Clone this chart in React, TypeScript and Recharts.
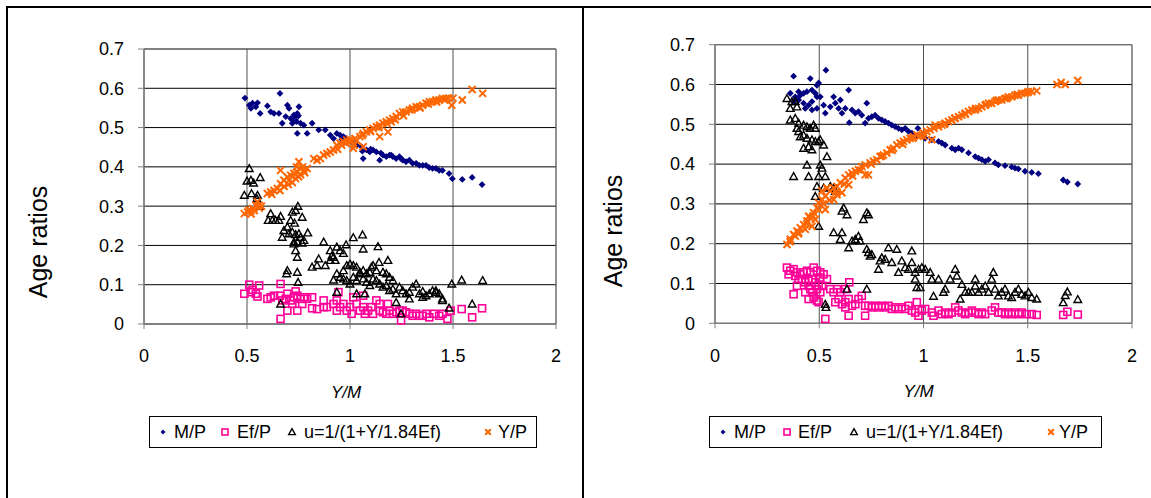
import React from 'react';
import {
  ScatterChart,
  Scatter,
  XAxis,
  YAxis,
  CartesianGrid,
  ReferenceArea,
  Legend,
  Label,
} from 'recharts';

// series names, shared by both panels
const seriesNames = ['M/P', 'Ef/P', 'u=1/(1+Y/1.84Ef)', 'Y/P'];
const xTicks = [0, 0.5, 1, 1.5, 2];
const yTicks = [0, 0.1, 0.2, 0.3, 0.4, 0.5, 0.6, 0.7];

// left panel, [Y/M, ratio]
const leftMP = [
  [0.49, 0.575], [0.66, 0.587], [0.511, 0.557], [0.527, 0.562], [0.551, 0.563], [0.543, 0.553],
  [0.519, 0.549], [0.564, 0.536], [0.599, 0.555], [0.615, 0.54], [0.631, 0.536], [0.655, 0.536],
  [0.696, 0.557], [0.704, 0.549], [0.688, 0.528], [0.712, 0.523], [0.728, 0.532], [0.744, 0.536],
  [0.752, 0.553], [0.736, 0.519], [0.72, 0.511], [0.671, 0.511], [0.76, 0.511], [0.776, 0.506],
  [0.744, 0.485], [0.792, 0.485], [0.816, 0.511], [0.848, 0.494], [0.88, 0.494], [0.904, 0.481],
  [0.92, 0.472], [0.936, 0.485], [0.952, 0.481], [0.968, 0.477], [0.984, 0.472], [1.008, 0.464],
  [1.032, 0.455], [1.056, 0.451], [1.064, 0.421], [1.08, 0.443], [1.096, 0.438], [1.112, 0.443],
  [1.128, 0.438], [1.144, 0.417], [1.16, 0.43], [1.176, 0.426], [1.192, 0.43], [1.208, 0.426],
  [1.224, 0.421], [1.24, 0.426], [1.256, 0.417], [1.272, 0.413], [1.288, 0.417], [1.304, 0.409],
  [1.321, 0.409], [1.337, 0.404], [1.353, 0.404], [1.369, 0.404], [1.385, 0.398], [1.401, 0.396],
  [1.417, 0.396], [1.433, 0.391], [1.449, 0.391], [1.481, 0.383], [1.497, 0.37], [1.545, 0.368],
  [1.593, 0.373], [1.641, 0.355], [0.73, 0.525], [0.74, 0.515], [0.75, 0.53], [0.72, 0.52],
  [1.15, 0.435], [1.2, 0.43], [1.25, 0.42], [1.1, 0.445], [1.02, 0.46], [0.96, 0.47], [1.06, 0.44],
];

const leftEf = [
  [0.487, 0.077], [0.511, 0.1], [0.527, 0.087], [0.543, 0.077], [0.559, 0.098], [0.551, 0.07],
  [0.519, 0.081], [0.599, 0.064], [0.615, 0.068], [0.631, 0.072], [0.66, 0.072], [0.663, 0.102],
  [0.696, 0.077], [0.712, 0.06], [0.728, 0.068], [0.736, 0.083], [0.744, 0.072], [0.76, 0.064],
  [0.776, 0.068], [0.792, 0.064], [0.671, 0.06], [0.688, 0.064], [0.696, 0.034], [0.72, 0.051],
  [0.744, 0.034], [0.663, 0.013], [0.816, 0.04], [0.84, 0.038], [0.872, 0.06], [0.872, 0.043],
  [0.888, 0.043], [0.92, 0.051], [0.936, 0.06], [0.944, 0.081], [0.936, 0.034], [0.952, 0.043],
  [0.968, 0.051], [0.984, 0.034], [1.0, 0.043], [1.016, 0.068], [1.032, 0.051], [1.048, 0.034],
  [1.064, 0.043], [1.064, 0.072], [1.072, 0.026], [1.088, 0.034], [1.104, 0.043], [1.112, 0.026],
  [1.128, 0.06], [1.144, 0.034], [1.16, 0.03], [1.176, 0.026], [1.184, 0.051], [1.192, 0.034],
  [1.208, 0.026], [1.224, 0.03], [1.24, 0.034], [1.248, 0.009], [1.256, 0.034], [1.272, 0.03],
  [1.288, 0.026], [1.304, 0.021], [1.321, 0.026], [1.337, 0.021], [1.353, 0.021], [1.369, 0.026],
  [1.385, 0.017], [1.409, 0.026], [1.433, 0.021], [1.449, 0.026], [1.473, 0.013], [1.489, 0.034],
  [1.542, 0.038], [1.593, 0.017], [1.641, 0.04], [1.144, 0.051], [1.008, 0.026], [0.816, 0.068],
  [0.768, 0.051],
];

const leftU = [
  [0.511, 0.396], [0.5, 0.364], [0.519, 0.366], [0.532, 0.359], [0.564, 0.373], [0.487, 0.328],
  [0.522, 0.332], [0.551, 0.328], [0.548, 0.319], [0.559, 0.3], [0.615, 0.281], [0.603, 0.264],
  [0.623, 0.264], [0.639, 0.264], [0.655, 0.264], [0.663, 0.274], [0.72, 0.285], [0.736, 0.289],
  [0.747, 0.3], [0.768, 0.272], [0.712, 0.264], [0.696, 0.247], [0.731, 0.257], [0.679, 0.238],
  [0.704, 0.23], [0.72, 0.234], [0.736, 0.228], [0.752, 0.23], [0.76, 0.221], [0.768, 0.206],
  [0.728, 0.209], [0.744, 0.209], [0.776, 0.213], [0.795, 0.232], [0.671, 0.221], [0.736, 0.187],
  [0.744, 0.17], [0.728, 0.204], [0.872, 0.209], [0.848, 0.166], [0.84, 0.149], [0.816, 0.145],
  [0.88, 0.149], [0.904, 0.187], [0.912, 0.174], [0.92, 0.17], [0.936, 0.196], [0.952, 0.187],
  [0.968, 0.18], [0.981, 0.202], [1.016, 0.22], [1.061, 0.227], [1.064, 0.191], [1.136, 0.197],
  [0.904, 0.162], [0.928, 0.162], [0.984, 0.149], [0.968, 0.136], [1.0, 0.153], [1.016, 0.149],
  [1.032, 0.145], [1.048, 0.132], [1.064, 0.136], [1.08, 0.128], [1.096, 0.132], [1.104, 0.145],
  [1.112, 0.149], [1.128, 0.136], [1.141, 0.157], [1.184, 0.162], [1.16, 0.132], [1.176, 0.128],
  [1.192, 0.119], [1.208, 0.111], [0.936, 0.128], [0.952, 0.119], [0.968, 0.115], [0.984, 0.111],
  [1.0, 0.102], [1.016, 0.119], [1.032, 0.111], [1.048, 0.128], [1.064, 0.115], [1.08, 0.106],
  [1.096, 0.098], [1.112, 0.115], [1.128, 0.111], [1.144, 0.102], [1.16, 0.094], [1.176, 0.098],
  [1.192, 0.085], [1.208, 0.089], [1.224, 0.077], [1.24, 0.094], [1.256, 0.085], [1.272, 0.077],
  [1.288, 0.081], [1.304, 0.094], [1.321, 0.102], [1.337, 0.077], [1.353, 0.068], [1.369, 0.072],
  [1.385, 0.077], [1.401, 0.085], [1.417, 0.081], [1.433, 0.077], [1.449, 0.064], [1.481, 0.041],
  [1.494, 0.102], [1.542, 0.112], [1.593, 0.051], [1.644, 0.111], [1.248, 0.026], [0.936, 0.081],
  [0.696, 0.136], [0.692, 0.128], [0.744, 0.132], [0.748, 0.106], [0.663, 0.051], [0.92, 0.112],
  [1.032, 0.077], [1.072, 0.077], [1.224, 0.055], [1.288, 0.064], [1.353, 0.083], [1.417, 0.085],
  [1.449, 0.06],
];

const leftYP = [
  [0.487, 0.281], [0.503, 0.285], [0.527, 0.294], [0.543, 0.302], [0.551, 0.311], [0.559, 0.302],
  [0.535, 0.289], [0.519, 0.288], [0.599, 0.332], [0.615, 0.336], [0.631, 0.34], [0.647, 0.345],
  [0.663, 0.357], [0.663, 0.391], [0.679, 0.366], [0.696, 0.374], [0.712, 0.379], [0.728, 0.383],
  [0.744, 0.387], [0.752, 0.413], [0.76, 0.396], [0.776, 0.391], [0.792, 0.396], [0.736, 0.37],
  [0.704, 0.366], [0.824, 0.421], [0.84, 0.417], [0.856, 0.421], [0.872, 0.43], [0.888, 0.434],
  [0.904, 0.438], [0.92, 0.443], [0.936, 0.455], [0.952, 0.46], [0.968, 0.464], [0.984, 0.468],
  [1.0, 0.464], [1.016, 0.447], [1.024, 0.472], [1.032, 0.468], [1.048, 0.477], [1.064, 0.485],
  [1.064, 0.451], [1.08, 0.489], [1.096, 0.494], [1.112, 0.498], [1.128, 0.502], [1.144, 0.506],
  [1.144, 0.477], [1.16, 0.511], [1.176, 0.515], [1.184, 0.489], [1.192, 0.519], [1.208, 0.523],
  [1.224, 0.528], [1.24, 0.536], [1.256, 0.54], [1.272, 0.54], [1.288, 0.545], [1.304, 0.549],
  [1.321, 0.553], [1.337, 0.553], [1.353, 0.557], [1.369, 0.562], [1.385, 0.566], [1.401, 0.566],
  [1.417, 0.57], [1.433, 0.57], [1.449, 0.574], [1.465, 0.574], [1.494, 0.557], [1.545, 0.57],
  [1.593, 0.597], [1.644, 0.587], [0.72, 0.36], [0.75, 0.375], [0.77, 0.4], [0.74, 0.4],
  [0.76, 0.38], [0.78, 0.385], [0.94, 0.445], [0.96, 0.455], [0.98, 0.46], [1.0, 0.47],
  [1.02, 0.455], [1.06, 0.48], [1.1, 0.49], [1.14, 0.5], [1.18, 0.51], [1.2, 0.515], [1.22, 0.52],
  [1.26, 0.53], [1.3, 0.545], [1.34, 0.55], [1.38, 0.56], [1.42, 0.565], [1.46, 0.57],
  [1.48, 0.575], [1.5, 0.575], [0.68, 0.35], [0.7, 0.355], [0.66, 0.34], [0.62, 0.33], [0.57, 0.3],
  [0.56, 0.295], [0.52, 0.28], [0.51, 0.29],
];

// right panel, [Y/M, ratio]
const rightMP = [
  [0.377, 0.621], [0.457, 0.615], [0.532, 0.636], [0.497, 0.604], [0.489, 0.598], [0.361, 0.578],
  [0.401, 0.582], [0.385, 0.569], [0.409, 0.573], [0.425, 0.578], [0.441, 0.582], [0.465, 0.586],
  [0.481, 0.578], [0.377, 0.557], [0.401, 0.561], [0.425, 0.553], [0.449, 0.548], [0.465, 0.557],
  [0.489, 0.569], [0.505, 0.569], [0.433, 0.54], [0.465, 0.536], [0.489, 0.54], [0.521, 0.548],
  [0.529, 0.528], [0.553, 0.544], [0.569, 0.569], [0.577, 0.553], [0.593, 0.54], [0.601, 0.561],
  [0.609, 0.528], [0.625, 0.54], [0.641, 0.586], [0.657, 0.536], [0.673, 0.528], [0.644, 0.504],
  [0.688, 0.532], [0.704, 0.523], [0.728, 0.553], [0.736, 0.515], [0.72, 0.503], [0.752, 0.519],
  [0.768, 0.523], [0.784, 0.515], [0.8, 0.511], [0.816, 0.507], [0.832, 0.503], [0.848, 0.498],
  [0.864, 0.494], [0.88, 0.49], [0.896, 0.486], [0.912, 0.49], [0.928, 0.482], [0.944, 0.478],
  [0.96, 0.469], [0.973, 0.49], [0.992, 0.473], [1.008, 0.465], [1.04, 0.461], [1.072, 0.457],
  [1.088, 0.453], [1.104, 0.448], [1.136, 0.44], [1.152, 0.436], [1.168, 0.44], [1.184, 0.436],
  [1.216, 0.428], [1.248, 0.419], [1.264, 0.415], [1.28, 0.411], [1.296, 0.407], [1.312, 0.411],
  [1.343, 0.403], [1.359, 0.398], [1.391, 0.396], [1.423, 0.393], [1.439, 0.39], [1.455, 0.388],
  [1.487, 0.382], [1.519, 0.379], [1.551, 0.376], [1.67, 0.36], [1.69, 0.355], [1.74, 0.35],
];

const rightEf = [
  [0.345, 0.14], [0.361, 0.132], [0.377, 0.136], [0.393, 0.128], [0.409, 0.123], [0.425, 0.128],
  [0.441, 0.132], [0.457, 0.128], [0.473, 0.14], [0.489, 0.132], [0.505, 0.128], [0.521, 0.123],
  [0.537, 0.111], [0.353, 0.123], [0.385, 0.119], [0.401, 0.111], [0.417, 0.111], [0.433, 0.103],
  [0.449, 0.107], [0.465, 0.111], [0.481, 0.103], [0.497, 0.094], [0.513, 0.094], [0.393, 0.094],
  [0.449, 0.094], [0.457, 0.086], [0.489, 0.086], [0.505, 0.078], [0.377, 0.073], [0.449, 0.061],
  [0.473, 0.065], [0.489, 0.057], [0.497, 0.053], [0.529, 0.011], [0.553, 0.086], [0.569, 0.078],
  [0.585, 0.086], [0.601, 0.078], [0.577, 0.053], [0.593, 0.061], [0.609, 0.048], [0.625, 0.053],
  [0.641, 0.061], [0.644, 0.103], [0.657, 0.044], [0.673, 0.048], [0.688, 0.061], [0.704, 0.069],
  [0.72, 0.044], [0.641, 0.019], [0.72, 0.019], [0.736, 0.044], [0.752, 0.04], [0.768, 0.044],
  [0.784, 0.04], [0.8, 0.044], [0.816, 0.04], [0.832, 0.044], [0.848, 0.036], [0.864, 0.04],
  [0.88, 0.036], [0.896, 0.04], [0.912, 0.036], [0.928, 0.044], [0.944, 0.032], [0.96, 0.027],
  [0.968, 0.053], [0.976, 0.019], [0.992, 0.032], [1.008, 0.036], [1.04, 0.027], [1.048, 0.019],
  [1.072, 0.032], [1.088, 0.023], [1.104, 0.027], [1.12, 0.023], [1.136, 0.027], [1.152, 0.04],
  [1.168, 0.032], [1.184, 0.027], [1.2, 0.023], [1.216, 0.027], [1.232, 0.032], [1.248, 0.027],
  [1.264, 0.023], [1.28, 0.027], [1.296, 0.023], [1.327, 0.032], [1.343, 0.04], [1.359, 0.027],
  [1.375, 0.027], [1.391, 0.023], [1.407, 0.027], [1.423, 0.023], [1.439, 0.027], [1.455, 0.023],
  [1.471, 0.027], [1.495, 0.023], [1.519, 0.023], [1.543, 0.021], [0.625, 0.04], [0.433, 0.078],
  [0.465, 0.078], [0.625, 0.086], [0.505, 0.115], [1.67, 0.021], [1.69, 0.029], [1.74, 0.022],
];

const rightU = [
  [0.345, 0.565], [0.369, 0.557], [0.385, 0.557], [0.361, 0.54], [0.393, 0.544], [0.361, 0.511],
  [0.385, 0.515], [0.401, 0.503], [0.393, 0.49], [0.401, 0.482], [0.425, 0.498], [0.441, 0.494],
  [0.457, 0.49], [0.473, 0.498], [0.481, 0.49], [0.409, 0.469], [0.425, 0.473], [0.441, 0.465],
  [0.465, 0.461], [0.481, 0.457], [0.497, 0.457], [0.425, 0.44], [0.449, 0.444], [0.465, 0.436],
  [0.505, 0.461], [0.521, 0.448], [0.377, 0.369], [0.449, 0.369], [0.497, 0.369], [0.529, 0.369],
  [0.441, 0.398], [0.537, 0.419], [0.505, 0.398], [0.513, 0.39], [0.489, 0.344], [0.481, 0.319],
  [0.521, 0.34], [0.553, 0.344], [0.569, 0.34], [0.577, 0.332], [0.497, 0.244], [0.617, 0.29],
  [0.609, 0.282], [0.633, 0.273], [0.712, 0.261], [0.728, 0.278], [0.736, 0.273], [0.569, 0.228],
  [0.609, 0.228], [0.601, 0.211], [0.641, 0.19], [0.657, 0.207], [0.673, 0.211], [0.688, 0.219],
  [0.696, 0.207], [0.728, 0.186], [0.736, 0.178], [0.744, 0.169], [0.752, 0.173], [0.784, 0.136],
  [0.792, 0.157], [0.8, 0.165], [0.816, 0.161], [0.832, 0.19], [0.848, 0.153], [0.872, 0.186],
  [0.88, 0.128], [0.896, 0.157], [0.912, 0.14], [0.928, 0.136], [0.944, 0.182], [0.944, 0.153],
  [0.96, 0.128], [0.976, 0.136], [0.992, 0.14], [1.008, 0.136], [1.032, 0.128], [0.96, 0.111],
  [0.984, 0.09], [0.968, 0.09], [1.04, 0.111], [1.048, 0.068], [1.072, 0.111], [1.096, 0.078],
  [1.104, 0.086], [1.128, 0.111], [1.152, 0.136], [1.16, 0.119], [1.176, 0.061], [1.184, 0.098],
  [1.2, 0.078], [1.216, 0.078], [1.232, 0.078], [1.248, 0.111], [1.248, 0.094], [1.264, 0.078],
  [1.28, 0.086], [1.296, 0.094], [1.312, 0.078], [1.327, 0.111], [1.335, 0.128], [1.343, 0.086],
  [1.359, 0.069], [1.375, 0.078], [1.391, 0.086], [1.407, 0.069], [1.423, 0.065], [1.439, 0.078],
  [1.455, 0.086], [1.471, 0.073], [1.487, 0.069], [1.503, 0.078], [1.519, 0.065], [1.543, 0.061],
  [0.633, 0.086], [0.728, 0.086], [0.529, 0.048], [0.532, 0.04], [1.67, 0.052], [1.68, 0.07],
  [1.69, 0.079], [1.74, 0.06],
];

const rightYP = [
  [0.345, 0.198], [0.361, 0.211], [0.377, 0.223], [0.393, 0.232], [0.409, 0.24], [0.425, 0.248],
  [0.441, 0.257], [0.457, 0.265], [0.473, 0.278], [0.489, 0.29], [0.497, 0.303], [0.513, 0.311],
  [0.529, 0.319], [0.537, 0.34], [0.553, 0.332], [0.569, 0.34], [0.585, 0.344], [0.601, 0.353],
  [0.625, 0.365], [0.641, 0.373], [0.657, 0.378], [0.673, 0.382], [0.688, 0.386], [0.704, 0.394],
  [0.72, 0.398], [0.736, 0.373], [0.744, 0.403], [0.76, 0.407], [0.776, 0.411], [0.792, 0.419],
  [0.808, 0.423], [0.824, 0.428], [0.84, 0.436], [0.856, 0.44], [0.872, 0.448], [0.888, 0.453],
  [0.904, 0.457], [0.92, 0.461], [0.936, 0.465], [0.952, 0.469], [0.968, 0.473], [0.984, 0.471],
  [1.0, 0.478], [1.016, 0.482], [1.032, 0.486], [1.04, 0.461], [1.056, 0.498], [1.072, 0.494],
  [1.088, 0.498], [1.104, 0.503], [1.12, 0.507], [1.136, 0.511], [1.152, 0.515], [1.168, 0.519],
  [1.184, 0.523], [1.2, 0.528], [1.216, 0.532], [1.232, 0.536], [1.248, 0.536], [1.264, 0.54],
  [1.28, 0.544], [1.296, 0.548], [1.312, 0.553], [1.327, 0.553], [1.343, 0.557], [1.359, 0.561],
  [1.375, 0.561], [1.391, 0.565], [1.407, 0.569], [1.423, 0.569], [1.439, 0.573], [1.455, 0.573],
  [1.471, 0.578], [1.487, 0.578], [1.503, 0.582], [1.519, 0.582], [1.543, 0.584], [0.513, 0.332],
  [0.481, 0.261], [0.529, 0.286], [0.569, 0.311], [0.585, 0.323], [0.609, 0.328], [0.465, 0.244],
  [0.449, 0.269], [0.433, 0.236], [0.401, 0.228], [0.385, 0.219], [0.641, 0.348], [0.72, 0.373],
  [0.36, 0.205], [0.4, 0.225], [0.44, 0.25], [0.47, 0.27], [0.5, 0.285], [0.52, 0.3], [0.55, 0.31],
  [0.58, 0.33], [0.62, 0.35], [0.66, 0.37], [0.7, 0.385], [0.75, 0.4], [0.8, 0.42], [0.85, 0.435],
  [0.9, 0.45], [0.95, 0.465], [1.0, 0.47], [1.05, 0.49], [1.1, 0.5], [1.15, 0.515], [1.2, 0.525],
  [1.25, 0.54], [1.3, 0.55], [1.35, 0.56], [1.4, 0.565], [1.45, 0.575], [1.5, 0.58], [1.64, 0.6],
  [1.66, 0.605], [1.68, 0.6], [1.74, 0.61],
];

const FONT = '"Liberation Sans", Arial, sans-serif';
const NAVY = '#000080';
const PINK = '#FF0099';
const ORANGE = '#FF6600';

const toPoints = (arr: number[][]) => arr.map(([x, y]) => ({ x, y }));

// marker drawings, s = half size
const diamond = (cx: number, cy: number, s: number) => (
  <polygon points={`${cx},${cy - s} ${cx + s},${cy} ${cx},${cy + s} ${cx - s},${cy}`} fill={NAVY} />
);
const square = (cx: number, cy: number, s: number) => (
  <rect x={cx - s} y={cy - s} width={2 * s} height={2 * s} fill="none" stroke={PINK} strokeWidth={1.6} />
);
const triangle = (cx: number, cy: number, s: number) => (
  <polygon
    points={`${cx},${cy - s} ${cx + s},${cy + s * 0.8} ${cx - s},${cy + s * 0.8}`}
    fill="none"
    stroke="#000"
    strokeWidth={1.4}
  />
);
const cross = (cx: number, cy: number, s: number) => (
  <g stroke={ORANGE} strokeWidth={2}>
    <line x1={cx - s} y1={cy - s} x2={cx + s} y2={cy + s} />
    <line x1={cx - s} y1={cy + s} x2={cx + s} y2={cy - s} />
  </g>
);

const markers = [diamond, square, triangle, cross];
const plotSizes = [3.4, 3.5, 3.8, 3.5];
const legendSizes = [2.4, 3, 3.3, 2.8];

function makeShape(i: number) {
  return (props: any) => {
    const { cx, cy } = props;
    if (cx == null || cy == null) return <g />;
    return markers[i](cx, cy, plotSizes[i]);
  };
}

function LegendBox({ markerX, textX }: { markerX: number[]; textX: number[] }) {
  return (
    <div
      style={{
        position: 'relative',
        height: 32,
        border: '1px solid #000',
        boxSizing: 'border-box',
        background: '#fff',
        fontFamily: FONT,
        fontSize: 18,
        color: '#000',
      }}
    >
      {seriesNames.map((name, i) => (
        <React.Fragment key={name}>
          <svg
            width={12}
            height={12}
            style={{ position: 'absolute', left: markerX[i] - 6, top: 9 }}
          >
            {markers[i](6, 6, legendSizes[i])}
          </svg>
          <span
            style={{ position: 'absolute', left: textX[i], top: 0, lineHeight: '30px', whiteSpace: 'nowrap' }}
          >
            {name}
          </span>
        </React.Fragment>
      ))}
    </div>
  );
}

interface PanelProps {
  left: number;
  width: number;
  yAxisWidth: number;
  margin: { top: number; right: number; bottom: number; left: number };
  xTickMargin: number;
  titleX: number;
  titleY: number;
  xTitleDx: number;
  legend: { left: number; width: number; markerX: number[]; textX: number[] };
  series: number[][][];
}

function Panel(p: PanelProps) {
  const tickStyle = { fill: '#000', fontSize: 18, fontFamily: FONT };
  return (
    <div style={{ position: 'absolute', left: p.left, top: 0 }}>
      <ScatterChart width={p.width} height={498} margin={p.margin}>
        <CartesianGrid horizontal={false} stroke="#505050" />
        <CartesianGrid vertical={false} stroke="#000" />
        <ReferenceArea x1={0} x2={2} y1={0} y2={0.7} fill="none" stroke="#808080" strokeWidth={1} />
        <XAxis
          type="number"
          dataKey="x"
          domain={[0, 2]}
          ticks={xTicks}
          height={40}
          tickSize={5}
          tickMargin={p.xTickMargin}
          tick={tickStyle}
          axisLine={{ stroke: '#808080' }}
          tickLine={{ stroke: '#808080' }}
        >
          <Label
            value="Y/M"
            position="bottom"
            offset={22}
            dx={p.xTitleDx}
            style={{ fontFamily: FONT, fontSize: 17, fontStyle: 'italic', fill: '#000' }}
          />
        </XAxis>
        <YAxis
          type="number"
          dataKey="y"
          domain={[0, 0.7]}
          ticks={yTicks}
          width={p.yAxisWidth}
          tickSize={6}
          tickMargin={14}
          tick={tickStyle}
          axisLine={{ stroke: '#808080' }}
          tickLine={{ stroke: '#808080' }}
        >
          <Label
            content={() => (
              <text
                x={p.titleX}
                y={p.titleY}
                transform={`rotate(-90, ${p.titleX}, ${p.titleY})`}
                textAnchor="middle"
                dominantBaseline="central"
                style={{ fontFamily: FONT, fontSize: 25, fill: '#000' }}
              >
                Age ratios
              </text>
            )}
          />
        </YAxis>
        {p.series.map((data, i) => (
          <Scatter
            key={seriesNames[i]}
            name={seriesNames[i]}
            data={toPoints(data)}
            shape={makeShape(i)}
            isAnimationActive={false}
          />
        ))}
        <Legend
          layout="vertical"
          align="center"
          verticalAlign="middle"
          wrapperStyle={{ left: p.legend.left, top: 416, width: p.legend.width, height: 32 }}
          content={() => <LegendBox markerX={p.legend.markerX} textX={p.legend.textX} />}
        />
      </ScatterChart>
    </div>
  );
}

export default function App() {
  return (
    <div
      style={{
        position: 'absolute',
        left: 0,
        top: 0,
        width: 1151,
        height: 498,
        background: '#fff',
        overflow: 'hidden',
      }}
    >
      <div style={{ position: 'absolute', left: 6, top: 6, width: 1145, height: 2, background: '#000' }} />
      <div style={{ position: 'absolute', left: 6, top: 6, width: 2, height: 492, background: '#000' }} />
      <div style={{ position: 'absolute', left: 582, top: 6, width: 2, height: 492, background: '#000' }} />
      <Panel
        left={0}
        width={580}
        yAxisWidth={144}
        margin={{ top: 49, right: 24, bottom: 134, left: 0 }}
        xTickMargin={20}
        titleX={38}
        titleY={242}
        xTitleDx={-4}
        legend={{ left: 149, width: 388, markerX: [13, 75, 142, 338], textX: [24, 87, 154, 348] }}
        series={[leftMP, leftEf, leftU, leftYP]}
      />
      <Panel
        left={583}
        width={568}
        yAxisWidth={132}
        margin={{ top: 44.7, right: 19, bottom: 134.7, left: 0 }}
        xTickMargin={21}
        titleX={30}
        titleY={231}
        xTitleDx={-5}
        legend={{ left: 126, width: 393, markerX: [13, 77, 144, 341], textX: [24, 88, 156, 349] }}
        series={[rightMP, rightEf, rightU, rightYP]}
      />
    </div>
  );
}
